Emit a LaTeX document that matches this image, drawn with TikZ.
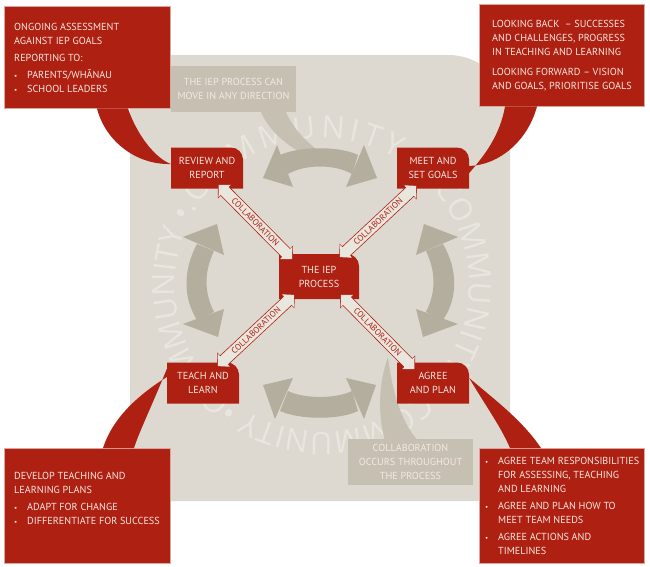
\documentclass[tikz,border=0pt]{standalone}
\usepackage{fontspec}
\setmainfont{PT Sans}
\newfontfamily\ringfont{Open Sans}
\usetikzlibrary{arrows.meta,calc,decorations.text}

\definecolor{stagered}{HTML}{AE2012}
\definecolor{noteedge}{HTML}{D9A79E}
\definecolor{papertext}{HTML}{F6E7E0}
\definecolor{plate}{HTML}{DDD9D0}
\definecolor{ringtext}{HTML}{E9E6DF}
\definecolor{turnarrow}{HTML}{B4AE9E}
\definecolor{asidegrey}{HTML}{C5C0B2}
\definecolor{collabfill}{HTML}{E9E6DE}

\tikzset{
    note/.style={draw=noteedge,line width=0.5pt,fill=stagered,anchor=north west},
    notetext/.style={text=papertext,anchor=north west,align=left,inner sep=0pt,font=\fontsize{10.2}{14}\selectfont},
    aside/.style={fill=asidegrey,text=papertext,align=center,inner sep=0pt,font=\fontsize{10.2}{14}\selectfont,execute at begin node={\rule{0pt}{11pt}}},
    stage/.style={text=papertext,align=center,inner sep=0pt,font=\fontsize{10.2}{14}\selectfont,execute at begin node={\rule{0pt}{9.5pt}}},
    collab/.style={stagered,line width=12.5pt,{Triangle[length=10pt,width=19.5pt]}-{Triangle[length=10pt,width=19.5pt]},
        postaction={draw=collabfill,line width=11pt,shorten <=1pt,shorten >=1pt,{Triangle[length=8.5pt,width=17pt]}-{Triangle[length=8.5pt,width=17pt]}}},
    collabtext/.style={midway,sloped,text=stagered,inner sep=0pt,font=\fontsize{8.6}{9}\selectfont}
}

\newcommand{\bul}{\makebox[13pt][l]{\fontsize{7}{7}\selectfont•}}
% name, centre x, centre y, width, height, text
\newcommand{\stagebox}[6]{
    \fill[stagered] ({#2-#4/2},{#3+#5/2}) -- ({#2-#4/2},{#3-#5/2}) [rounded corners=12] -- ({#2+#4/2},{#3-#5/2}) [sharp corners] -- ({#2+#4/2},{#3+#5/2}) -- cycle;
    \node[stage,minimum width=#4,minimum height=#5] (#1) at (#2,#3) {#6};
}
% tip, first side corner, second side corner
\newcommand{\turnhead}[3]{\fill[turnarrow] #1 -- #2 -- #3 -- cycle;}

\begin{document}
\begin{tikzpicture}[x=1pt,y=-1pt]
    \useasboundingbox (0,0) rectangle (650,567);

    \fill[plate] (130,501) -- (130,55) [rounded corners=62] -- (510,55) [sharp corners] -- (510,501) -- cycle;

    \foreach \from/\to in {-147/-43,-41/46,47/126,128/211} {
        \path[decorate,decoration={text along path,text align={fit to path},
            text={|\ringfont\fontsize{31}{31}\selectfont\color{ringtext}|COMMUNITY •.}}]
            (322,285) ++(\from:147) arc (\from:\to:147);
    }

    % grey callout tails
    \fill[asidegrey] (260,110) .. controls (270,135) and (300,160) .. (340,164) .. controls (312,150) and (293,130) .. (285,110) -- cycle;
    \fill[asidegrey] (388,357) .. controls (378,385) and (378,415) .. (385,441) -- (418,441) .. controls (400,420) and (392,390) .. (388,357);

    % the four turning arrows
    \fill[turnarrow] (280,155) .. controls (300,146) and (340,146) .. (358,155) -- (352,174) .. controls (335,164) and (305,164) .. (288,174) -- cycle;
    \turnhead{(263,178)}{(277,145)}{(293,187)}
    \turnhead{(377,178)}{(364,145)}{(346,187)}

    \fill[turnarrow] (197,244) .. controls (183,270) and (183,298) .. (197,320) -- (214,312) .. controls (204,292) and (204,272) .. (214,251) -- cycle;
    \turnhead{(217,224)}{(183,237)}{(224,255)}
    \turnhead{(218,337)}{(183,324)}{(224,309)}

    \fill[turnarrow] (443,244) .. controls (458,270) and (458,298) .. (443,320) -- (426,312) .. controls (436,292) and (436,272) .. (426,251) -- cycle;
    \turnhead{(424,224)}{(458,237)}{(416,255)}
    \turnhead{(423,337)}{(458,324)}{(416,309)}

    \fill[turnarrow] (280,411) .. controls (300,420) and (340,420) .. (358,411) -- (352,391) .. controls (335,399) and (305,399) .. (288,391) -- cycle;
    \turnhead{(263,385)}{(293,378)}{(275,419)}
    \turnhead{(376,385)}{(346,378)}{(364,419)}

    % grey callouts
    \node[aside,minimum width=125,minimum height=46] (anydirection) at (233.5,89) {THE IEP PROCESS CAN\\MOVE IN ANY DIRECTION};
    \node[aside,minimum width=125,minimum height=46] (throughout) at (410.5,462) {COLLABORATION\\OCCURS THROUGHOUT\\THE PROCESS};

    % stages
    \stagebox{review}{207}{168}{72}{41}{REVIEW AND\\REPORT}
    \stagebox{meet}{433}{168}{72}{41}{MEET AND\\SET GOALS}
    \stagebox{iep}{319}{276.5}{80}{45}{THE IEP\\PROCESS}
    \stagebox{teach}{203}{383}{72}{41}{TEACH AND\\LEARN}
    \stagebox{agree}{433}{383}{72}{41}{AGREE\\AND PLAN}

    % red notes
    \node[note,minimum width=166,minimum height=102] (reviewnote) at (4,6) {};
    \node[notetext] (reviewtext) at (14,23) {ONGOING ASSESSMENT\\AGAINST IEP GOALS\\[3pt]REPORTING TO:\\[3pt]\bul PARENTS/WHĀNAU\\\bul SCHOOL LEADERS};
    \fill[stagered] ([xshift=93]reviewnote.south west) .. controls (105,140) and (135,165) .. ([yshift=4]review.west) .. controls (155,158) and (137,135) .. ([xshift=124]reviewnote.south west) -- cycle;

    \node[note,minimum width=165,minimum height=102] (meetnote) at (479,4) {};
    \node[notetext] (meettext) at (492,20) {LOOKING BACK~ – SUCCESSES\\AND CHALLENGES, PROGRESS\\IN TEACHING AND LEARNING\\[6pt]LOOKING FORWARD – VISION\\AND GOALS, PRIORITISE GOALS};
    \fill[stagered] ([xshift=26]meetnote.south west) .. controls (500,135) and (485,155) .. ([yshift=-5]meet.east) -- ([yshift=2]meet.east) .. controls (500,165) and (528,140) .. ([xshift=58]meetnote.south west) -- cycle;

    \node[note,minimum width=166,minimum height=115] (teachnote) at (4,448) {};
    \node[notetext] (teachtext) at (14,472) {DEVELOP TEACHING AND\\LEARNING PLANS\\[3pt]\bul ADAPT FOR CHANGE\\\bul DIFFERENTIATE FOR SUCCESS};
    \fill[stagered] ([xshift=99]teachnote.north west) .. controls (112,420) and (135,397) .. ([yshift=6]teach.west) -- ([yshift=14]teach.west) .. controls (150,410) and (140,430) .. ([xshift=130]teachnote.north west) -- cycle;

    \node[note,minimum width=165,minimum height=115] (agreenote) at (479,448) {};
    \node[notetext] (agreetext) at (485,457) {\bul AGREE TEAM RESPONSIBILITIES\\\hspace*{13pt}FOR ASSESSING, TEACHING\\\hspace*{13pt}AND LEARNING\\[3pt]\bul AGREE AND PLAN HOW TO\\\hspace*{13pt}MEET TEAM NEEDS\\[3pt]\bul AGREE ACTIONS AND\\\hspace*{13pt}TIMELINES};
    \fill[stagered] ([yshift=5]agree.east) .. controls (495,400) and (522,420) .. ([xshift=62]agreenote.north west) -- ([xshift=31]agreenote.north west) .. controls (500,425) and (485,405) .. ([yshift=5]agree.east) -- cycle;

    % collaboration links
    \draw[collab] ([shift={(11,-4.5)}]review.south) -- node[collabtext] {COLLABORATION} ([shift={(14,6)}]iep.north west);
    \draw[collab] ([shift={(-20,4)}]iep.north east) -- node[collabtext] {COLLABORATION} ([shift={(-16,-3.5)}]meet.south);
    \draw[collab] ([shift={(14,4.5)}]teach.north) -- node[collabtext] {COLLABORATION} ([shift={(16,-5)}]iep.south west);
    \draw[collab] ([shift={(-19,-5)}]iep.south east) -- node[collabtext] {COLLABORATION} ([shift={(-18,7.5)}]agree.north);
\end{tikzpicture}
\end{document}
